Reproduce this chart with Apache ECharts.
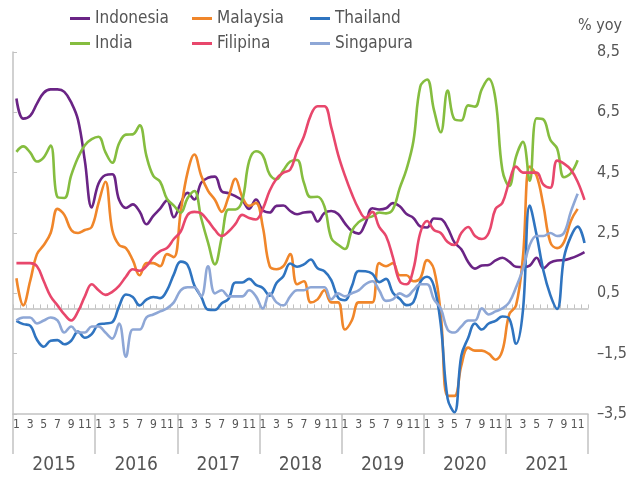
<!DOCTYPE html>
<html>
<head>
<meta charset="utf-8">
<script src="https://cdn.jsdelivr.net/npm/echarts@6/dist/echarts.min.js"></script>
<style>
  html, body { margin: 0; padding: 0; background: #fff; }
  #chart { width: 630px; height: 477px; }
</style>
</head>
<body>
<div id="chart"></div>
<script>
var years = ['2015', '2016', '2017', '2018', '2019', '2020', '2021']
var monthNums = [1, 2, 3, 4, 5, 6, 7, 8, 9, 10, 11, 12]
var months = []
years.forEach(function (y) {
  monthNums.forEach(function (m) { months.push(y + '-' + m) })
})

// inflasi % yoy, Jan 2015 - Des 2021
var indonesia = [
  6.96, 6.29, 6.38, 6.79, 7.15, 7.26, 7.26, 7.18, 6.83, 6.25, 4.89, 3.35,
  4.14, 4.42, 4.45, 3.60, 3.33, 3.45, 3.21, 2.79, 3.07, 3.31, 3.58, 3.02,
  3.49, 3.83, 3.61, 4.17, 4.33, 4.37, 3.88, 3.82, 3.72, 3.58, 3.30, 3.61,
  3.25, 3.18, 3.40, 3.41, 3.23, 3.12, 3.18, 3.20, 2.88, 3.16, 3.23, 3.13,
  2.82, 2.57, 2.48, 2.83, 3.32, 3.28, 3.32, 3.49, 3.39, 3.13, 3.00, 2.72,
  2.68, 2.98, 2.96, 2.67, 2.19, 1.96, 1.54, 1.32, 1.42, 1.44, 1.59, 1.68,
  1.55, 1.38, 1.37, 1.42, 1.68, 1.33, 1.52, 1.59, 1.60, 1.66, 1.75, 1.87
]
var malaysia = [
  1.0, 0.1, 0.9, 1.8, 2.1, 2.5, 3.3, 3.1, 2.6, 2.5, 2.6, 2.7,
  3.5, 4.2, 2.6, 2.1, 2.0, 1.6, 1.1, 1.5, 1.5, 1.4, 1.8, 1.7,
  3.2, 4.5, 5.1, 4.4, 3.9, 3.6, 3.2, 3.7, 4.3, 3.7, 3.4, 3.5,
  2.7, 1.4, 1.3, 1.4, 1.8, 0.8, 0.9, 0.2, 0.3, 0.6, 0.2, 0.2,
  -0.7, -0.4, 0.2, 0.2, 0.2, 1.5, 1.4, 1.5, 1.1, 1.1, 0.9, 1.0,
  1.6, 1.3, -0.2, -2.9, -2.9, -1.9, -1.3, -1.4, -1.4, -1.5, -1.7, -1.4,
  -0.2, 0.1, 1.7, 4.7, 4.4, 3.4, 2.2, 2.0, 2.2, 2.9, 3.3
]
var thailand = [
  -0.41, -0.52, -0.57, -1.04, -1.27, -1.07, -1.05, -1.19, -1.07, -0.77, -0.97, -0.85,
  -0.53, -0.50, -0.46, 0.07, 0.46, 0.38, 0.10, 0.29, 0.38, 0.34, 0.60, 1.13,
  1.55, 1.44, 0.76, 0.38, -0.04, -0.05, 0.17, 0.32, 0.86, 0.86, 0.98, 0.78,
  0.68, 0.42, 0.84, 1.07, 1.49, 1.38, 1.46, 1.62, 1.33, 1.23, 0.94, 0.36,
  0.27, 0.73, 1.24, 1.23, 1.15, 0.87, 0.98, 0.52, 0.32, 0.11, 0.21, 0.87,
  1.05, 0.74, -0.54, -2.99, -3.44, -1.57, -0.98, -0.50, -0.70, -0.50, -0.41, -0.27,
  -0.34, -1.17, -0.08, 3.41, 2.44, 1.25, 0.45, -0.02, 1.68, 2.38, 2.71, 2.17
]
var india = [
  5.19, 5.37, 5.17, 4.87, 5.01, 5.40, 3.69, 3.66, 4.41, 5.00, 5.41, 5.61,
  5.69, 5.18, 4.83, 5.47, 5.76, 5.77, 6.07, 5.05, 4.39, 4.20, 3.63, 3.41,
  3.17, 3.65, 3.89, 2.99, 2.18, 1.46, 2.36, 3.28, 3.28, 3.58, 4.88, 5.21,
  5.07, 4.44, 4.28, 4.58, 4.87, 4.92, 4.17, 3.69, 3.70, 3.38, 2.33, 2.11,
  1.97, 2.57, 2.86, 2.99, 3.05, 3.18, 3.15, 3.28, 3.99, 4.62, 5.54, 7.35,
  7.59, 6.58, 5.84, 7.22, 6.27, 6.23, 6.73, 6.69, 7.27, 7.61, 6.93, 4.59,
  4.06, 5.03, 5.52, 4.23, 6.30, 6.26, 5.59, 5.30, 4.35, 4.48, 4.91
]
var filipina = [
  1.5, 1.5, 1.5, 1.4, 0.9, 0.4, 0.1, -0.2, -0.4, -0.1, 0.4, 0.8,
  0.6, 0.45, 0.55, 0.75, 1.05, 1.3, 1.25, 1.4, 1.7, 1.9, 2.0, 2.3,
  2.55, 3.1, 3.2, 3.15, 2.9, 2.6, 2.4, 2.55, 2.8, 3.1, 3.0, 2.95,
  3.3, 3.9, 4.3, 4.5, 4.6, 5.2, 5.7, 6.4, 6.7, 6.7, 6.0, 5.1,
  4.4, 3.8, 3.3, 3.0, 3.2, 2.7, 2.4, 1.7, 0.9, 0.8, 1.3, 2.5,
  2.9, 2.6, 2.5, 2.2, 2.1, 2.5, 2.7, 2.4, 2.3, 2.5, 3.3, 3.5,
  4.2, 4.7, 4.5, 4.5, 4.5, 4.1, 4.0, 4.9, 4.8, 4.6, 4.2, 3.6
]
var singapura = [
  -0.4, -0.3, -0.3, -0.5, -0.4, -0.3, -0.4, -0.8, -0.6, -0.8, -0.8, -0.6,
  -0.6, -0.8, -1.0, -0.5, -1.6, -0.7, -0.7, -0.3, -0.2, -0.1, 0.0, 0.2,
  0.6, 0.7, 0.7, 0.4, 1.4, 0.5, 0.6, 0.4, 0.4, 0.4, 0.6, 0.4,
  0.0, 0.5, 0.2, 0.1, 0.4, 0.6, 0.6, 0.7, 0.7, 0.7, 0.3, 0.5,
  0.4, 0.5, 0.6, 0.8, 0.9, 0.6, 0.25, 0.3, 0.5, 0.4, 0.6, 0.8,
  0.8, 0.3, 0.0, -0.7, -0.8, -0.6, -0.4, -0.4, 0.0, -0.2, -0.1, 0.0,
  0.2, 0.7, 1.3, 2.1, 2.4, 2.4, 2.5, 2.4, 2.5, 3.2, 3.8
]

var yMin = -3.5
var yMax = 8.5
var yStep = 2

var font = "'DejaVu Sans Condensed', 'Liberation Sans Narrow', sans-serif"
var textColor = '#555555'
var axisColor = '#c2c2c2'

var seriesList = [
  { name: 'Indonesia', data: indonesia, color: '#6a2485', left: 65, top: 5 },
  { name: 'Malaysia', data: malaysia, color: '#f0862a', left: 187, top: 5 },
  { name: 'Thailand', data: thailand, color: '#2f74c0', left: 305, top: 5 },
  { name: 'India', data: india, color: '#85bd3f', left: 65, top: 30 },
  { name: 'Filipina', data: filipina, color: '#e8476c', left: 187, top: 30 },
  { name: 'Singapura', data: singapura, color: '#8ea7d6', left: 305, top: 30 }
]

function fmtY(v) {
  var s = Math.abs(v).toFixed(1).replace('.', ',')
  return v < 0 ? '\u2013' + s : s
}

var gridBox = { left: 13, right: 42, top: 52, bottom: 63 }

var chart = echarts.init(document.getElementById('chart'))
chart.setOption({
  animation: false,
  textStyle: { fontFamily: font },
  legend: seriesList.map(function (s) {
    return {
      data: [s.name],
      top: s.top,
      left: s.left,
      icon: 'rect',
      itemWidth: 20,
      itemHeight: 3,
      selectedMode: false,
      textStyle: { fontFamily: font, fontSize: 17, color: textColor }
    }
  }),
  grid: [
    Object.assign({}, gridBox),
    Object.assign({}, gridBox),
    Object.assign({}, gridBox)
  ],
  xAxis: [
    {
      // garis nol dengan tick bulanan
      type: 'category',
      gridIndex: 0,
      data: months,
      boundaryGap: true,
      axisLine: { onZero: true, lineStyle: { color: axisColor, width: 1.5 } },
      axisTick: { show: true, inside: true, length: 4, interval: 0, lineStyle: { color: axisColor } },
      axisLabel: { show: false },
      splitLine: { show: false }
    },
    {
      // label bulan di bawah
      type: 'category',
      gridIndex: 1,
      data: months,
      boundaryGap: true,
      axisLine: { onZero: false, lineStyle: { color: axisColor, width: 1.5 } },
      axisTick: { show: false },
      axisLabel: {
        interval: function (i) { return i % 2 === 0 },
        formatter: function (v) { return v.split('-')[1] },
        fontFamily: font,
        fontSize: 12,
        color: textColor,
        margin: 5
      },
      splitLine: { show: false }
    },
    {
      // tahun + pemisah
      type: 'category',
      gridIndex: 2,
      data: years,
      boundaryGap: true,
      axisLine: { show: false, onZero: false },
      axisTick: { show: true, length: 40, interval: 0, lineStyle: { color: axisColor, width: 1.5 } },
      axisLabel: { fontFamily: font, fontSize: 19, color: textColor, margin: 42 },
      splitLine: { show: false }
    }
  ],
  yAxis: [
    {
      type: 'value',
      gridIndex: 0,
      position: 'right',
      min: yMin,
      max: yMax,
      interval: yStep,
      name: '% yoy',
      nameLocation: 'end',
      nameGap: 18,
      nameTextStyle: { fontFamily: font, fontSize: 16, color: textColor, align: 'center', padding: [0, 0, 0, 24] },
      axisLine: { show: false },
      axisTick: { show: false },
      axisLabel: { formatter: fmtY, fontFamily: font, fontSize: 16, color: textColor, margin: 9, align: 'left' },
      splitLine: { show: false }
    },
    {
      type: 'value',
      gridIndex: 0,
      position: 'left',
      min: yMin,
      max: yMax,
      interval: yStep,
      axisLine: { show: true, lineStyle: { color: axisColor, width: 1.5 } },
      axisTick: { show: true, inside: true, length: 4, lineStyle: { color: axisColor } },
      axisLabel: { show: false },
      splitLine: { show: false }
    },
    { type: 'value', gridIndex: 1, show: false },
    { type: 'value', gridIndex: 2, show: false }
  ],
  series: seriesList.map(function (s) {
    return {
      name: s.name,
      type: 'line',
      xAxisIndex: 0,
      yAxisIndex: 0,
      data: s.data,
      smooth: 0.4,
      symbol: 'none',
      itemStyle: { color: s.color },
      lineStyle: { color: s.color, width: 2.6 }
    }
  })
})
</script>
</body>
</html>
